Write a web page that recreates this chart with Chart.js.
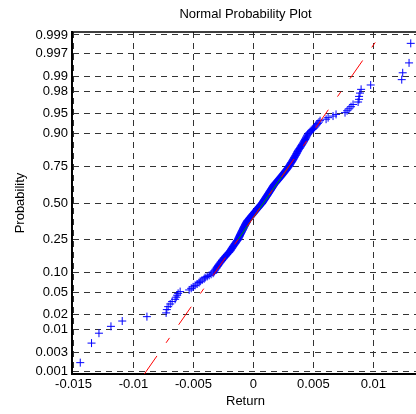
<!DOCTYPE html>
<html>
<head>
<meta charset="utf-8">
<title>Normal Probability Plot</title>
<script src="https://cdn.jsdelivr.net/npm/chart.js@4.4.1/dist/chart.umd.min.js"></script>
<style>
  html, body { margin: 0; padding: 0; overflow: hidden; background: #fff; }
  #wrap { width: 424px; height: 414px; }
</style>
</head>
<body>
<div id="wrap"><canvas id="chart_1" width="424" height="414"></canvas></div>
<script>
const returns = [
  -0.01444, -0.01350, -0.01288, -0.01188, -0.01094, -0.00888, -0.00728, -0.00722, -0.00711, -0.00694,
  -0.00678, -0.00653, -0.00644, -0.00636, -0.00628, -0.00611, -0.00536, -0.00519, -0.00503, -0.00486,
  -0.00469, -0.00453, -0.00444, -0.00428, -0.00411, -0.00403, -0.00386, -0.00369, -0.00353, -0.00336,
  -0.00330, -0.00326, -0.00320, -0.00316, -0.00309, -0.00305, -0.00299, -0.00294, -0.00289, -0.00284,
  -0.00278, -0.00273, -0.00268, -0.00262, -0.00258, -0.00252, -0.00247, -0.00242, -0.00236, -0.00231,
  -0.00226, -0.00220, -0.00215, -0.00210, -0.00204, -0.00199, -0.00194, -0.00191, -0.00187, -0.00184,
  -0.00180, -0.00177, -0.00173, -0.00170, -0.00166, -0.00163, -0.00159, -0.00156, -0.00152, -0.00149,
  -0.00145, -0.00142, -0.00138, -0.00135, -0.00131, -0.00128, -0.00126, -0.00124, -0.00122, -0.00119,
  -0.00117, -0.00115, -0.00113, -0.00111, -0.00109, -0.00107, -0.00104, -0.00102, -0.00100, -0.00098,
  -0.00096, -0.00094, -0.00091, -0.00089, -0.00087, -0.00085, -0.00083, -0.00081, -0.00079, -0.00077,
  -0.00074, -0.00072, -0.00070, -0.00068, -0.00066, -0.00064, -0.00061, -0.00059, -0.00057, -0.00055,
  -0.00053, -0.00050, -0.00047, -0.00043, -0.00040, -0.00037, -0.00034, -0.00031, -0.00027, -0.00024,
  -0.00021, -0.00018, -0.00015, -0.00011, -0.00008, -0.00005, -0.00002, 0.00002, 0.00005, 0.00008,
  0.00011, 0.00014, 0.00018, 0.00021, 0.00024, 0.00027, 0.00030, 0.00034, 0.00037, 0.00040,
  0.00043, 0.00046, 0.00050, 0.00053, 0.00056, 0.00059, 0.00062, 0.00066, 0.00069, 0.00072,
  0.00075, 0.00077, 0.00080, 0.00082, 0.00085, 0.00087, 0.00090, 0.00092, 0.00095, 0.00097,
  0.00100, 0.00102, 0.00105, 0.00107, 0.00110, 0.00112, 0.00115, 0.00117, 0.00120, 0.00122,
  0.00125, 0.00127, 0.00130, 0.00132, 0.00135, 0.00137, 0.00140, 0.00142, 0.00145, 0.00147,
  0.00150, 0.00152, 0.00155, 0.00157, 0.00160, 0.00162, 0.00165, 0.00167, 0.00170, 0.00172,
  0.00176, 0.00179, 0.00183, 0.00186, 0.00190, 0.00193, 0.00197, 0.00200, 0.00204, 0.00207,
  0.00211, 0.00214, 0.00218, 0.00221, 0.00225, 0.00228, 0.00232, 0.00235, 0.00239, 0.00242,
  0.00246, 0.00249, 0.00253, 0.00256, 0.00260, 0.00263, 0.00267, 0.00270, 0.00274, 0.00277,
  0.00281, 0.00284, 0.00288, 0.00291, 0.00295, 0.00298, 0.00301, 0.00304, 0.00307, 0.00310,
  0.00313, 0.00316, 0.00320, 0.00323, 0.00326, 0.00329, 0.00332, 0.00335, 0.00338, 0.00341,
  0.00344, 0.00347, 0.00351, 0.00354, 0.00357, 0.00360, 0.00363, 0.00366, 0.00369, 0.00372,
  0.00376, 0.00380, 0.00385, 0.00389, 0.00393, 0.00397, 0.00401, 0.00405, 0.00410, 0.00414,
  0.00418, 0.00422, 0.00426, 0.00431, 0.00435, 0.00439, 0.00443, 0.00447, 0.00452, 0.00456,
  0.00465, 0.00474, 0.00483, 0.00492, 0.00501, 0.00510, 0.00520, 0.00529, 0.00538, 0.00547,
  0.00556, 0.00606, 0.00623, 0.00664, 0.00689, 0.00764, 0.00781, 0.00798, 0.00814, 0.00831,
  0.00873, 0.00881, 0.00881, 0.00889, 0.00898, 0.00978, 0.01237, 0.01245, 0.01298, 0.01312
];
const probTicks = [0.001, 0.003, 0.01, 0.02, 0.05, 0.10, 0.25, 0.50, 0.75, 0.90, 0.95, 0.98, 0.99, 0.997, 0.999];
const probLabels = ['0.001', '0.003', '0.01', '0.02', '0.05', '0.10', '0.25', '0.50', '0.75', '0.90', '0.95', '0.98', '0.99', '0.997', '0.999'];
const xTicks = [-0.015, -0.01, -0.005, 0, 0.005, 0.01];
const xLabels = ['-0.015', '-0.01', '-0.005', '0', '0.005', '0.01'];

// inverse normal cdf (Acklam), used for the probability scale
const norminv = p => {
    const a = [-3.969683028665376e+01, 2.209460984245205e+02, -2.759285104469687e+02, 1.383577518672690e+02, -3.066479806614716e+01, 2.506628277459239e+00];
    const b = [-5.447609879822406e+01, 1.615858368580409e+02, -1.556989798598866e+02, 6.680131188771972e+01, -1.328068155288572e+01];
    const c = [-7.784894002430293e-03, -3.223964580411365e-01, -2.400758277161838e+00, -2.549732539343734e+00, 4.374664141464968e+00, 2.938163982698783e+00];
    const d = [7.784695709041462e-03, 3.224671290700398e-01, 2.445134137142996e+00, 3.754408661907416e+00];
    const plow = 0.02425;
    const tail = q => (((((c[0]*q+c[1])*q+c[2])*q+c[3])*q+c[4])*q+c[5]) / ((((d[0]*q+d[1])*q+d[2])*q+d[3])*q+1);
    if (p < plow) return tail(Math.sqrt(-2 * Math.log(p)));
    if (p > 1 - plow) return -tail(Math.sqrt(-2 * Math.log(1 - p)));
    const q = p - 0.5, r = q * q;
    return (((((a[0]*r+a[1])*r+a[2])*r+a[3])*r+a[4])*r+a[5])*q / (((((b[0]*r+b[1])*r+b[2])*r+b[3])*r+b[4])*r+1);
};

const n = returns.length;
const prctile = pct => {
    const pos = pct / 100 * n + 0.5;
    const lo = Math.floor(pos), f = pos - lo;
    return returns[lo - 1] + f * (returns[lo] - returns[lo - 1]);
};

// axis limits like normplot
const range = returns[n - 1] - returns[0];
const xMin = returns[0] - 0.025 * range, xMax = returns[n - 1] + 0.025 * range;
const yMax = norminv(1 - 0.25 / n), yMin = -yMax;

// points: sorted value vs normal quantile of plotting position
const points = returns.map((v, i) => ({x: v, y: norminv((i + 0.5) / n)}));

// reference line through the quartiles
const q1 = prctile(25), q3 = prctile(75);
const z1 = norminv(0.25), z3 = norminv(0.75);
const slope = (q3 - q1) / (z3 - z1);
const fitAt = z => q1 + (z - z1) * slope;
const fullLine = [{x: fitAt(yMin), y: yMin}, {x: fitAt(yMax), y: yMax}];
const midLine = [{x: q1, y: z1}, {x: q3, y: z3}];

const FONT = {family: '"Liberation Sans", Arial, Helvetica, sans-serif', size: 13};

const frame = {
    id: 'frame',
    afterDraw(chart) {
        const {ctx, chartArea: a} = chart;
        ctx.save();
        ctx.strokeStyle = '#000';
        ctx.lineWidth = 1.5;
        ctx.beginPath();
        ctx.moveTo(a.left, a.top);
        ctx.lineTo(a.right, a.top);
        ctx.lineTo(a.right, a.bottom);
        ctx.stroke();
        ctx.restore();
    }
};

const ctx = document.getElementById('chart_1').getContext('2d');
new Chart(ctx, {
    type: 'scatter',
    data: {
        datasets: [
            {
                label: 'extension',
                data: fullLine,
                showLine: true,
                borderColor: '#ff0000',
                borderWidth: 1,
                borderDash: [22, 16, 6, 16],
                pointRadius: 0,
                order: 0
            },
            {
                label: 'quartiles',
                data: midLine,
                showLine: true,
                borderColor: '#00a000',
                borderWidth: 1,
                pointRadius: 0,
                order: 1
            },
            {
                label: 'Return',
                data: points,
                pointStyle: 'cross',
                pointRadius: 4,
                borderColor: '#0000ff',
                backgroundColor: '#0000ff',
                borderWidth: 1,
                order: 2
            }
        ]
    },
    options: {
        responsive: false,
        animation: false,
        layout: {padding: {left: 0, right: 5, top: 0, bottom: 0}},
        plugins: {
            legend: {display: false},
            tooltip: {enabled: false},
            title: {
                display: true,
                text: 'Normal Probability Plot',
                fullSize: false,
                color: '#000',
                font: {...FONT, weight: 'normal'},
                padding: {top: 7, bottom: 9.4}
            }
        },
        scales: {
            x: {
                type: 'linear',
                min: xMin,
                max: xMax,
                afterBuildTicks: axis => { axis.ticks = xTicks.map(v => ({value: v})); },
                afterFit: axis => { axis.height = 40; },
                ticks: {
                    color: '#000',
                    font: FONT,
                    padding: 3,
                    maxRotation: 0,
                    callback: (v, i) => xLabels[i]
                },
                grid: {color: '#333', lineWidth: 1, drawTicks: false},
                border: {display: true, color: '#000', width: 2, dash: [6, 5]},
                title: {display: true, text: 'Return', color: '#000', font: FONT, padding: {top: 0, bottom: 4.5}}
            },
            y: {
                type: 'linear',
                min: yMin,
                max: yMax,
                afterBuildTicks: axis => { axis.ticks = probTicks.map(p => ({value: norminv(p)})); },
                afterFit: axis => { axis.width = 72; },
                ticks: {
                    color: '#000',
                    font: FONT,
                    padding: 4,
                    callback: (v, i) => probLabels[i]
                },
                grid: {color: '#333', lineWidth: 1, drawTicks: false},
                border: {display: true, color: '#000', width: 2, dash: [6, 5]},
                title: {display: true, text: 'Probability', color: '#000', font: FONT, padding: {top: 13, bottom: 0}}
            }
        }
    },
    plugins: [frame]
});
</script>
</body>
</html>
